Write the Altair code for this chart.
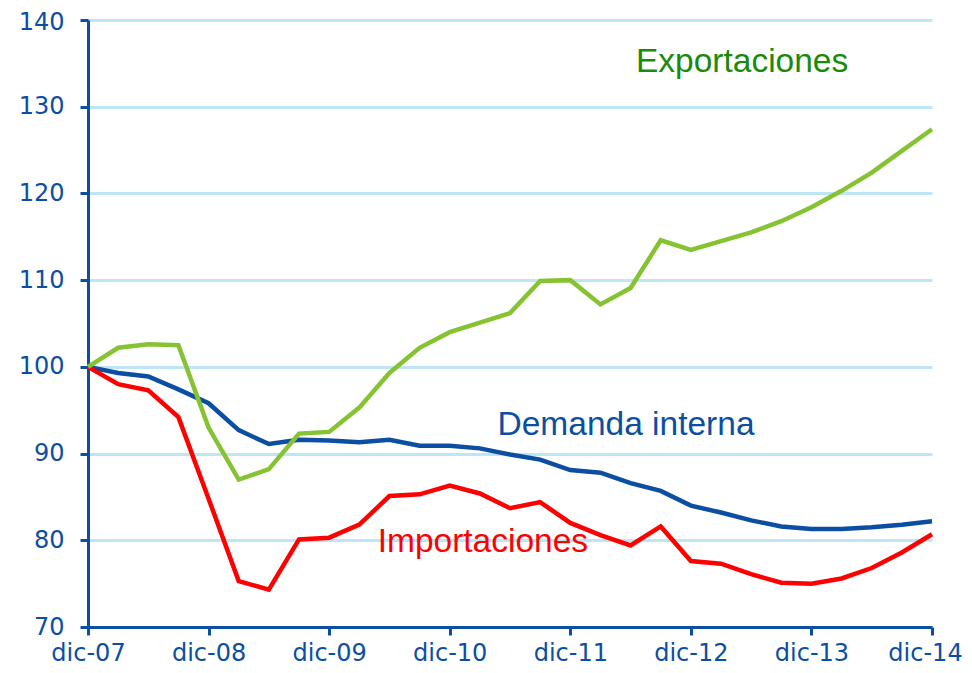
import altair as alt
import pandas as pd

# Quarterly index values, dic-07 = 100
quarters = list(range(29))
year_labels = ["dic-07", "dic-08", "dic-09", "dic-10", "dic-11", "dic-12", "dic-13", "dic-14"]

exportaciones = [100.0, 102.2, 102.6, 102.5, 93.0, 87.0, 88.2, 92.3, 92.5, 95.3,
                 99.3, 102.2, 104.0, 105.1, 106.2, 109.9, 110.0, 107.2, 109.1, 114.6,
                 113.5, 114.5, 115.5, 116.8, 118.4, 120.3, 122.4, 124.9, 127.4]
demanda = [100.0, 99.3, 98.9, 97.4, 95.8, 92.7, 91.1, 91.6, 91.5, 91.3,
           91.6, 90.9, 90.9, 90.6, 89.9, 89.3, 88.1, 87.8, 86.6, 85.7,
           84.0, 83.2, 82.3, 81.6, 81.3, 81.3, 81.5, 81.8, 82.2]
importaciones = [100.0, 98.0, 97.3, 94.2, 84.8, 75.3, 74.3, 80.1, 80.3, 81.8,
                 85.1, 85.3, 86.3, 85.4, 83.7, 84.4, 82.0, 80.6, 79.4, 81.6,
                 77.6, 77.3, 76.1, 75.1, 75.0, 75.6, 76.8, 78.6, 80.7]

series_names = ["Demanda interna", "Importaciones", "Exportaciones"]
series_colors = ["#0b4ea2", "#ff0000", "#86c332"]
label_colors = ["#0b4ea2", "#ff0000", "#1a8a0a"]

rows = []
for name, vals in zip(series_names, [demanda, importaciones, exportaciones]):
    for q, v in zip(quarters, vals):
        rows.append({"q": q, "value": v, "serie": name})
df = pd.DataFrame(rows)

axis_blue = "#0b4ea2"
label_js = "[" + ",".join("'%s'" % s for s in year_labels) + "]"

x_enc = alt.X(
    "q:Q",
    scale=alt.Scale(domain=[0, 28], nice=False, zero=False),
    axis=alt.Axis(
        values=[0, 4, 8, 12, 16, 20, 24, 28],
        labelExpr=label_js + "[round(datum.value/4)]",
        title=None, grid=False,
        domainColor=axis_blue, domainWidth=3,
        tickColor=axis_blue, tickWidth=3, tickSize=8,
        labelColor=axis_blue, labelFont="DejaVu Sans", labelFontSize=24,
        labelPadding=6, labelFlush=False, labelOverlap=False,
        labelOffset={"condition": {"test": "datum.value == 28", "value": -7}, "value": 0},
    ),
)
y_enc = alt.Y(
    "value:Q",
    scale=alt.Scale(domain=[70, 140], nice=False, zero=False),
    axis=alt.Axis(
        values=[70, 80, 90, 100, 110, 120, 130, 140],
        title=None, grid=True, gridColor="#bde6f7", gridWidth=3,
        domainColor=axis_blue, domainWidth=3,
        tickColor=axis_blue, tickWidth=3, tickSize=8,
        labelColor=axis_blue, labelFont="DejaVu Sans", labelFontSize=24,
        labelPadding=16, labelFlush=False,
        labelOffset={"condition": {"test": "datum.value == 140", "value": 2}, "value": 0},
    ),
)

lines = alt.Chart(df).mark_line(strokeWidth=4.5, strokeJoin="miter", clip=False).encode(
    x=x_enc,
    y=y_enc,
    color=alt.Color("serie:N", scale=alt.Scale(domain=series_names, range=series_colors), legend=None),
    detail="serie:N",
    order=alt.Order("q:Q"),
)

labels_df = pd.DataFrame({"text": series_names})

def label_layer(name, xq, yv):
    d = labels_df[labels_df["text"] == name]
    return alt.Chart(d).mark_text(
        font="Liberation Sans", fontSize=33.5, align="center", baseline="alphabetic",
        color=label_colors[series_names.index(name)],
    ).encode(
        x=alt.X("xq:Q", scale=alt.Scale(domain=[0, 28], nice=False, zero=False)),
        y=alt.Y("yv:Q", scale=alt.Scale(domain=[70, 140], nice=False, zero=False)),
        text="text:N",
    ).transform_calculate(xq=str(xq), yv=str(yv))

layers = [
    lines,
    label_layer("Exportaciones", 21.7, 134.0),
    label_layer("Demanda interna", 17.85, 92.1),
    label_layer("Importaciones", 13.1, 78.65),
]

chart = alt.layer(*layers).properties(
    width=844, height=607,
    padding={"left": 80, "top": 12, "right": 32, "bottom": 38},
    autosize=alt.AutoSizeParams(type="none"),
    background="white",
).configure_view(stroke=None)

chart.save("out.html", embed_options={"renderer": "svg", "actions": False})
